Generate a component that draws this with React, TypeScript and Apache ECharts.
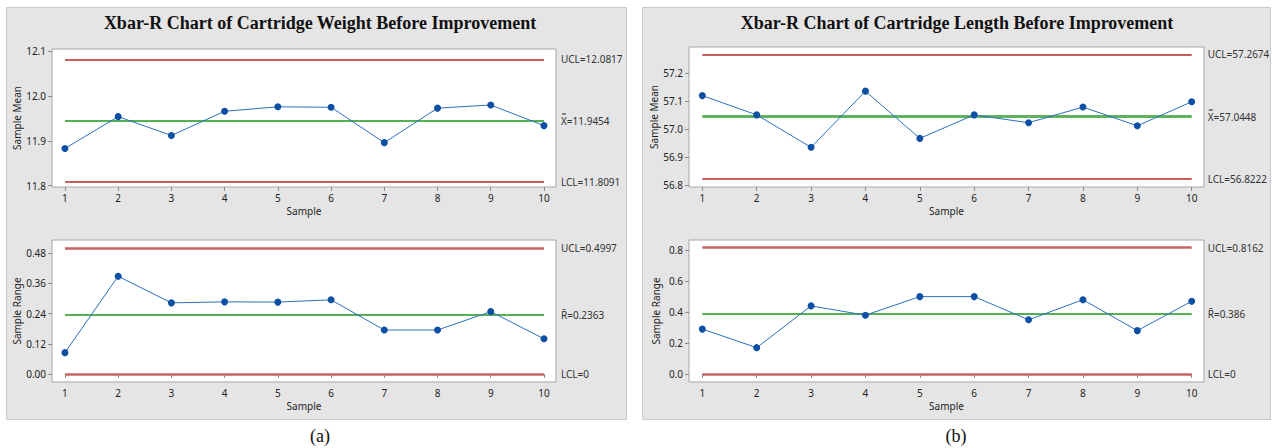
import React, { useEffect, useRef } from "react";
import * as echarts from "echarts";

const samples = [1, 2, 3, 4, 5, 6, 7, 8, 9, 10];

const weightMeans = [11.883, 11.954, 11.912, 11.966, 11.976, 11.975, 11.896, 11.973, 11.98, 11.934];
const weightRanges = [0.085, 0.389, 0.283, 0.287, 0.286, 0.295, 0.175, 0.175, 0.248, 0.14];
const lengthMeans = [57.12, 57.051, 56.935, 57.136, 56.967, 57.051, 57.023, 57.079, 57.012, 57.098];
const lengthRanges = [0.29, 0.17, 0.44, 0.38, 0.5, 0.5, 0.35, 0.48, 0.28, 0.47];

// [UCL, center, LCL]
const weightMeanLimits = [12.0817, 11.9454, 11.8091];
const weightRangeLimits = [0.4997, 0.2363, 0];
const lengthMeanLimits = [57.2674, 57.0448, 56.8222];
const lengthRangeLimits = [0.8162, 0.386, 0];

const weightMeanLabels = ["UCL=12.0817", "X\u033F=11.9454", "LCL=11.8091"];
const weightRangeLabels = ["UCL=0.4997", "R\u0304=0.2363", "LCL=0"];
const lengthMeanLabels = ["UCL=57.2674", "X\u033F=57.0448", "LCL=56.8222"];
const lengthRangeLabels = ["UCL=0.8162", "R\u0304=0.386", "LCL=0"];

const weightMeanTicks = [11.8, 11.9, 12.0, 12.1];
const weightRangeTicks = [0, 0.12, 0.24, 0.36, 0.48];
const lengthMeanTicks = [56.8, 56.9, 57.0, 57.1, 57.2];
const lengthRangeTicks = [0, 0.2, 0.4, 0.6, 0.8];

const titles = [
  "Xbar-R Chart of Cartridge Weight Before Improvement",
  "Xbar-R Chart of Cartridge Length Before Improvement",
];
const captions = ["(a)", "(b)"];

const SANS = "'Noto Sans', 'Open Sans', sans-serif";
const SERIF = "'Liberation Serif', 'Times New Roman', serif";
const TXT = "#1e1e1e";

export default function App() {
  const ref = useRef<HTMLDivElement>(null);

  useEffect(() => {
    if (!ref.current) return;
    const chart = echarts.init(ref.current, null, { renderer: "svg" });

    const panels = [
      { grid: { left: 52, top: 49, width: 504, height: 138 }, x: [0.757, 10.226], y: [11.797, 12.105], ticks: weightMeanTicks, dec: 1, data: weightMeans, limits: weightMeanLimits, labels: weightMeanLabels, name: "Sample Mean", nameGap: 22, dist: 17, red: "#b52a2a", redW: 1.5, green: "#1a961a", greenW: 1.5 },
      { grid: { left: 52, top: 240, width: 504, height: 142 }, x: [0.757, 10.226], y: [-0.0318, 0.533], ticks: weightRangeTicks, dec: 2, data: weightRanges, limits: weightRangeLimits, labels: weightRangeLabels, name: "Sample Range", nameGap: 22, dist: 17, red: "#c46464", redW: 2.5, green: "#1a961a", greenW: 1.5 },
      { grid: { left: 689, top: 47, width: 515, height: 140 }, x: [0.755, 10.226], y: [56.793, 57.294], ticks: lengthMeanTicks, dec: 1, data: lengthMeans, limits: lengthMeanLimits, labels: lengthMeanLabels, name: "Sample Mean", nameGap: 28, dist: 16, red: "#b52a2a", redW: 1.5, green: "#5fb35f", greenW: 3 },
      { grid: { left: 689, top: 240, width: 515, height: 142 }, x: [0.755, 10.226], y: [-0.052, 0.866], ticks: lengthRangeTicks, dec: 1, data: lengthRanges, limits: lengthRangeLimits, labels: lengthRangeLabels, name: "Sample Range", nameGap: 28, dist: 16, red: "#c46464", redW: 2.5, green: "#1a961a", greenW: 1.5 },
    ];

    const grid = panels.map((p) => ({
      ...p.grid,
      show: true,
      backgroundColor: "#ffffff",
      borderColor: "#a6a6a6",
      borderWidth: 1,
      containLabel: false,
    }));

    const xAxis = panels.map((p, i) => ({
      type: "value",
      gridIndex: i,
      min: p.x[0],
      max: p.x[1],
      name: "Sample",
      nameLocation: "middle",
      nameGap: 19,
      nameTextStyle: { fontSize: 10, color: TXT, fontFamily: SANS },
      axisLine: { show: false },
      splitLine: { show: false },
      axisTick: { show: true, length: 4, lineStyle: { color: "#8a8a8a" }, customValues: samples },
      axisLabel: { fontSize: 10, color: TXT, fontFamily: SANS, margin: 6, customValues: samples, formatter: (v: number) => String(Math.round(v)) },
    }));

    const yAxis = panels.map((p, i) => ({
      type: "value",
      gridIndex: i,
      min: p.y[0],
      max: p.y[1],
      name: p.name,
      nameLocation: "middle",
      nameGap: p.nameGap,
      nameTextStyle: { fontSize: 10, color: TXT, fontFamily: SANS },
      axisLine: { show: false },
      splitLine: { show: false },
      axisTick: { show: true, length: 4, lineStyle: { color: "#8a8a8a" }, customValues: p.ticks },
      axisLabel: { fontSize: 10, color: TXT, fontFamily: SANS, margin: 6, customValues: p.ticks, formatter: (v: number) => v.toFixed(p.dec) },
    }));

    const series = panels.map((p, i) => ({
      type: "line",
      xAxisIndex: i,
      yAxisIndex: i,
      data: samples.map((s, k) => [s, p.data[k]]),
      symbol: "circle",
      symbolSize: 7,
      itemStyle: { color: "#0d4fa3" },
      lineStyle: { color: "#2e70c0", width: 1 },
      z: 5,
      markLine: {
        silent: true,
        symbol: "none",
        animation: false,
        label: { show: true, position: "end", distance: p.dist, fontSize: 10, color: "#333", fontFamily: SANS },
        data: p.limits.map((v, k) => [
          {
            coord: [samples[0], v],
            lineStyle: { color: k === 1 ? p.green : p.red, width: k === 1 ? p.greenW : p.redW, type: "solid" },
            label: { formatter: p.labels[k] },
          },
          { coord: [samples[samples.length - 1], v] },
        ]),
      },
    }));

    const graphic = [
      { type: "rect", z: -10, shape: { x: 6.5, y: 7.5, width: 620, height: 412 }, style: { fill: "#e5e5e5", stroke: "#c9c9c9", lineWidth: 1 } },
      { type: "rect", z: -10, shape: { x: 642.5, y: 7.5, width: 628, height: 412 }, style: { fill: "#e5e5e5", stroke: "#c9c9c9", lineWidth: 1 } },
      { type: "text", z: 10, x: 320, y: 23, style: { text: titles[0], font: `bold 18px ${SERIF}`, fill: "#111", textAlign: "center", textVerticalAlign: "middle" } },
      { type: "text", z: 10, x: 957, y: 23, style: { text: titles[1], font: `bold 18px ${SERIF}`, fill: "#111", textAlign: "center", textVerticalAlign: "middle" } },
      { type: "text", z: 10, x: 320, y: 436, style: { text: captions[0], font: `18px ${SERIF}`, fill: "#111", textAlign: "center", textVerticalAlign: "middle" } },
      { type: "text", z: 10, x: 956, y: 436, style: { text: captions[1], font: `18px ${SERIF}`, fill: "#111", textAlign: "center", textVerticalAlign: "middle" } },
    ];

    chart.setOption({
      animation: false,
      backgroundColor: "#ffffff",
      grid,
      xAxis,
      yAxis,
      series,
      graphic,
    });

    return () => chart.dispose();
  }, []);

  return <div ref={ref} style={{ position: "fixed", left: 0, top: 0, width: 1272, height: 448 }} />;
}
